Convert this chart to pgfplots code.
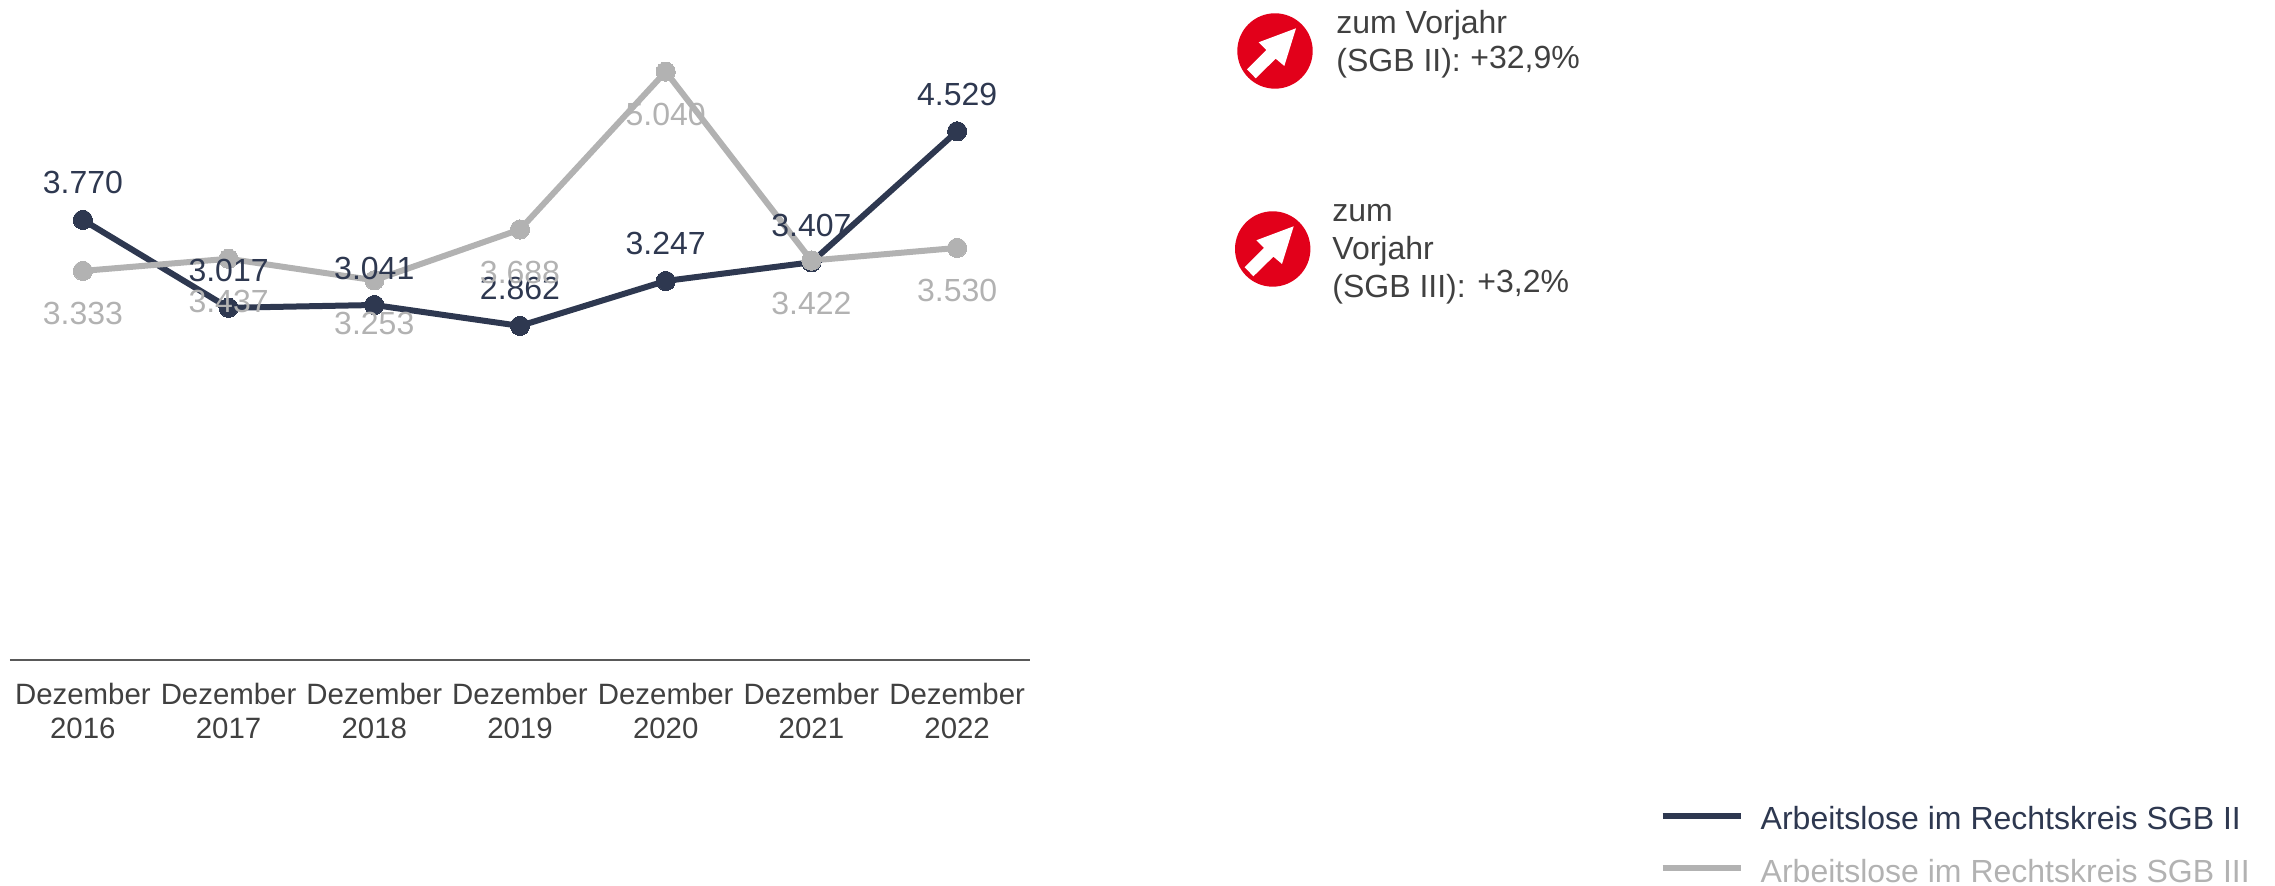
\documentclass[border=0pt]{standalone}
\usepackage{pgfplots}
\usepackage{pgfplotstable}
\usepackage{fontspec}
\setmainfont{Liberation Sans}
\pgfplotsset{compat=1.18}
\definecolor{navy}{HTML}{2E3850}
\definecolor{lgray}{HTML}{B2B2B2}
\definecolor{txt}{HTML}{404040}
\definecolor{redc}{HTML}{E2001A}
\pgfplotstableread{
x sgbii sgbiii
0 3770 3333
1 3017 3437
2 3041 3253
3 2862 3688
4 3247 5040
5 3407 3422
6 4529 3530
}\datatable
\newcommand{\icon}[2]{%
  \begin{scope}[shift={(#1,#2)}]
    \fill[redc] (0,0) circle (37.7);
    \fill[white] (21,22.7) -- (-16.3,8.7) -- (-8.7,1) -- (-28,-18.3) -- (-19.3,-27.3) -- (0.7,-7.7) -- (9.3,-15) -- cycle;
  \end{scope}}
\begin{document}
\begin{tikzpicture}[x=0.5pt,y=0.5pt]
\useasboundingbox (0,0) rectangle (2275,886);
\begin{axis}[
  at={(5pt,113pt)}, anchor=south west,
  scale only axis, width=510pt, height=330pt,
  xmin=-0.5, xmax=6.5, ymin=0, ymax=5654,
  clip=false,
  axis y line=none, axis x line=bottom,
  axis x line shift=0pt,
  x axis line style={-, color=black!65, line width=1pt},
  xtick={0,...,6},
  xticklabels={Dezember\\2016,Dezember\\2017,Dezember\\2018,Dezember\\2019,Dezember\\2020,Dezember\\2021,Dezember\\2022},
  xtick style={draw=none},
  xticklabel style={align=center, font=\fontsize{14.7}{17}\selectfont, text=txt, yshift=-6pt},
  legend style={draw=none, fill=none, at={(1.617,-0.2157)}, anchor=north west, legend cell align=left, font=\fontsize{16}{18}\selectfont, row sep=9pt, inner sep=0pt},
  legend image code/.code={\draw[#1] (0pt,2pt) -- (39pt,2pt); \path (45.5pt,0pt);},
  legend columns=1,
  /pgf/number format/assume math mode=true,
  /pgf/number format/fixed, /pgf/number format/precision=0,
  /pgf/number format/1000 sep={.},
]
\addplot[color=navy, line width=3pt, mark=*, mark size=4.8pt, mark options={solid, fill=navy, draw=navy, line width=0pt}] table[x=x,y=sgbii] {\datatable};
\addlegendentry{\textcolor{navy}{Arbeitslose im Rechtskreis SGB II}}
\addplot[color=lgray, line width=3pt, mark=*, mark size=4.8pt, mark options={solid, fill=lgray, draw=lgray, line width=0pt}] table[x=x,y=sgbiii] {\datatable};
\addlegendentry{\textcolor{lgray}{Arbeitslose im Rechtskreis SGB III}}
\addplot[forget plot, draw=none, no marks, point meta=y, nodes near coords,
  every node near coord/.append style={anchor=center, yshift=18.5pt, text=navy, inner sep=0pt, font=\fontsize{16}{18}\selectfont}]
  table[x=x,y=sgbii] {\datatable};
\addplot[forget plot, draw=none, no marks, point meta=y, nodes near coords,
  every node near coord/.append style={anchor=center, yshift=-21.5pt, text=lgray, inner sep=0pt, font=\fontsize{16}{18}\selectfont}]
  table[x=x,y=sgbiii] {\datatable};
\end{axis}
\icon{1275}{835}
\icon{1272.7}{637}
\begin{scope}[every node/.style={inner sep=0pt, anchor=base west, text=txt, font=\fontsize{16}{18}\selectfont}]
\node at (1336,852.5) {zum Vorjahr};
\node at (1336,814) {(SGB II):};
\node at (1470,817) {+32,9\%};
\node at (1332,664.5) {zum};
\node at (1332,626) {Vorjahr};
\node at (1332,588) {(SGB III):};
\node at (1477,593) {+3,2\%};
\end{scope}
\end{tikzpicture}
\end{document}
